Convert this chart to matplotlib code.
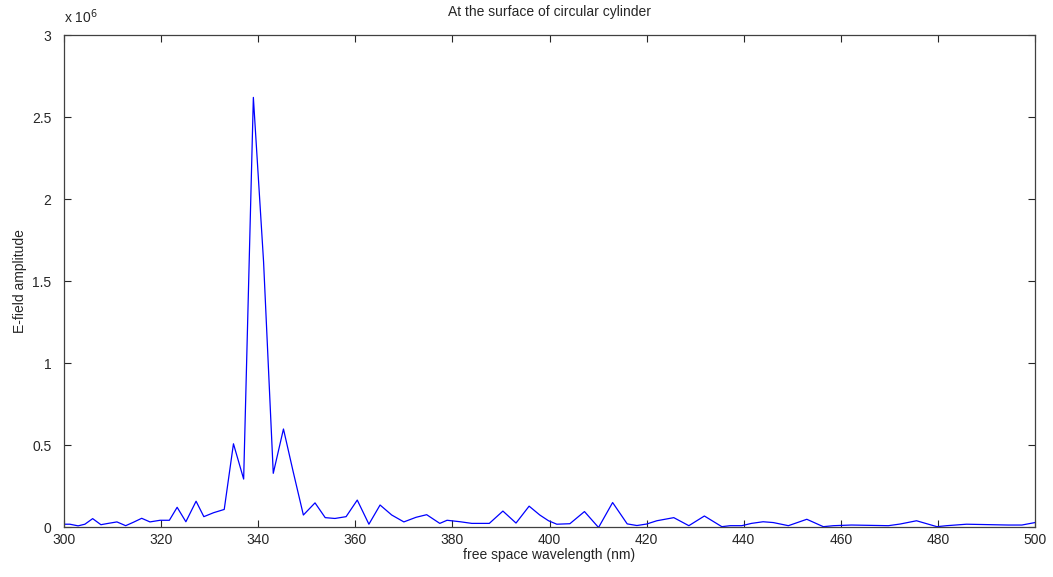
import matplotlib
matplotlib.use("Agg")
import matplotlib.pyplot as plt
from matplotlib.ticker import FuncFormatter

plt.rcParams['font.family'] = ['Liberation Sans', 'DejaVu Sans']

# wavelength samples (nm) and field amplitude (x 1e6)
wavelength = [300.0, 301.2, 302.9, 304.3, 305.9, 307.6, 309.1, 310.9, 312.7, 314.3,
              316.0, 317.7, 319.8, 321.7, 323.3, 325.1, 327.2, 328.8, 330.8, 333.0,
              334.9, 337.0, 339.0, 341.1, 343.1, 345.2, 347.2, 349.3, 351.7, 353.8,
              355.8, 358.1, 360.4, 362.8, 365.1, 367.5, 370.0, 372.5, 374.7, 377.4,
              378.9, 381.6, 384.0, 387.6, 390.4, 393.1, 395.8, 398.0, 399.8, 401.5,
              404.2, 407.2, 410.1, 413.0, 416.0, 418.0, 420.0, 422.1, 425.6, 428.7,
              431.9, 435.5, 437.2, 439.6, 441.6, 444.0, 446.1, 449.2, 453.0, 456.4,
              458.5, 462.2, 469.8, 472.2, 475.6, 479.8, 481.8, 485.9, 494.5, 497.3,
              500.0]
amplitude = [0.020, 0.020, 0.010, 0.020, 0.054, 0.017, 0.025, 0.034, 0.011, 0.032,
             0.056, 0.034, 0.044, 0.044, 0.123, 0.035, 0.160, 0.066, 0.090, 0.110,
             0.510, 0.295, 2.620, 1.620, 0.330, 0.600, 0.340, 0.076, 0.150, 0.060,
             0.055, 0.066, 0.167, 0.020, 0.137, 0.076, 0.034, 0.062, 0.078, 0.025,
             0.044, 0.035, 0.025, 0.025, 0.100, 0.027, 0.130, 0.076, 0.041, 0.020,
             0.023, 0.097, 0.000, 0.152, 0.022, 0.012, 0.021, 0.041, 0.060, 0.011,
             0.070, 0.005, 0.011, 0.011, 0.025, 0.035, 0.030, 0.011, 0.050, 0.005,
             0.011, 0.015, 0.011, 0.021, 0.041, 0.005, 0.011, 0.020, 0.015, 0.015,
             0.030]

x_ticks = [300, 320, 340, 360, 380, 400, 420, 440, 460, 480, 500]
y_ticks = [0, 0.5e6, 1e6, 1.5e6, 2e6, 2.5e6, 3e6]

fig = plt.figure(figsize=(10.53, 5.77), dpi=100)
ax = fig.add_axes([0.0608, 0.0858, 0.9221, 0.8535])

ax.plot(wavelength, [a * 1e6 for a in amplitude], color='#0000ff', linewidth=0.9)

ax.set_xlim(300, 500)
ax.set_ylim(0, 3e6)
ax.set_xticks(x_ticks)
ax.set_yticks(y_ticks)
ax.yaxis.set_major_formatter(FuncFormatter(lambda v, p: f"{v / 1e6:g}"))

ax.tick_params(direction='in', top=True, right=True, length=5, width=0.8,
               labelsize=10, colors='#262626')
ax.tick_params(axis='x', pad=4)
ax.tick_params(axis='y', pad=9)
for s in ax.spines.values():
    s.set_color('#404040')
    s.set_linewidth(0.9)

ax.text(0.0, 1.018, "x 10$^{6}$", transform=ax.transAxes, fontsize=10,
        color='#262626', ha='left', va='bottom')

ax.set_title("At the surface of circular cylinder", fontsize=10, color='#262626', pad=14)
ax.set_xlabel("free space wavelength (nm)", fontsize=10, color='#262626', labelpad=1)
ax.set_ylabel("E-field amplitude", fontsize=10, color='#262626', labelpad=4)

fig.savefig("out.png", dpi=100, facecolor='white')
